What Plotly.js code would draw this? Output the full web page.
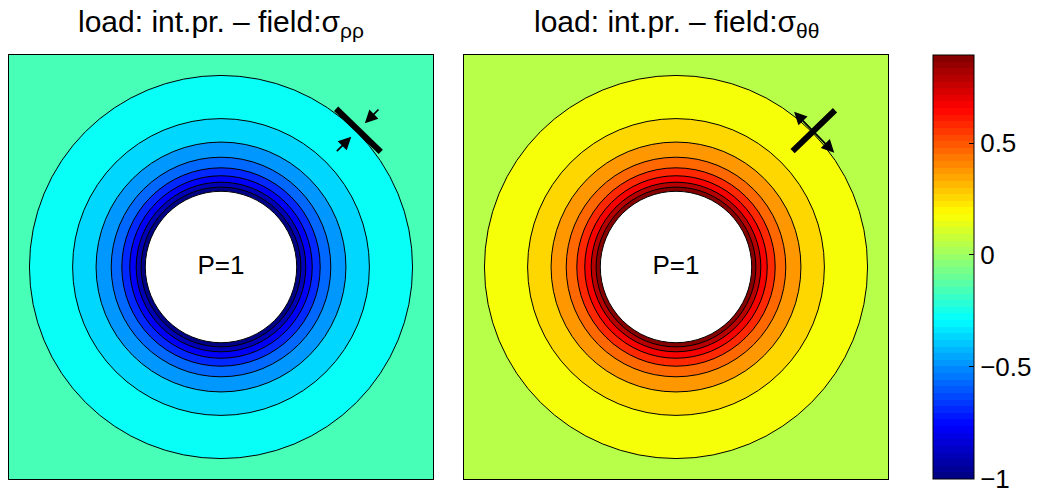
<!DOCTYPE html>
<html>
<head>
<meta charset="utf-8">
<script src="https://cdn.plot.ly/plotly-3.0.1.min.js"></script>
<style>
  html, body { margin: 0; padding: 0; background: #fff; }
  #chart { width: 1039px; height: 493px; }
</style>
</head>
<body>
<div id="chart"></div>
<script>
// Radii (in units of the hole radius) of the contour circles, outermost first
const contourRadius = [2.53, 1.96, 1.65, 1.45, 1.31, 1.205, 1.12, 1.055];
// Filled value of each region: outside the outer circle, then inside each circle
const sigmaRhoRho     = [-0.158, -0.263, -0.368, -0.474, -0.579, -0.684, -0.789, -0.895, -1.0];
const sigmaThetaTheta = [ 0.053,  0.158,  0.263,  0.368,  0.474,  0.579,  0.684,  0.789,  0.895];
const holeRadius = 1;
const pressure = 1;
const colorRange = [-1.0005, 0.893];
const colorbarTicks = [-1, -0.5, 0, 0.5];
const colorbarTickText = ['\u22121', '\u22120.5', '0', '0.5'];

const FONT = 'Liberation Sans, Arial, Helvetica, sans-serif';
const W = 1039, H = 493;
const NCOL = 64;

// MATLAB-style jet colormap
function jet(t) {
  const c = v => Math.round(255 * Math.min(1, Math.max(0, v)));
  return 'rgb(' + c(1.5 - Math.abs(4 * t - 3)) + ',' +
                  c(1.5 - Math.abs(4 * t - 2)) + ',' +
                  c(1.5 - Math.abs(4 * t - 1)) + ')';
}
function levelColor(v) {
  let i = Math.floor((v - colorRange[0]) / (colorRange[1] - colorRange[0]) * NCOL);
  i = Math.max(0, Math.min(NCOL - 1, i));
  return jet((i + 0.5) / NCOL);
}
const jetScale = [];
for (let i = 0; i < NCOL; i++) {
  const col = jet((i + 0.5) / NCOL);
  jetScale.push([i / NCOL, col], [(i + 1) / NCOL, col]);
}

// Axis pixel boxes
const px = (a, b) => [a / W, b / W];
const py = (top, bottom) => [1 - bottom / H, 1 - top / H];
const dom1 = px(9, 433), dom2 = px(464, 888), domY = py(55, 479);

function contourShapes(values, xr, yr) {
  const s = [{
    type: 'rect', xref: xr + ' domain', yref: yr + ' domain',
    x0: 0, x1: 1, y0: 0, y1: 1, layer: 'below',
    fillcolor: levelColor(values[0]), line: { width: 0 }
  }];
  contourRadius.forEach((r, k) => {
    s.push({
      type: 'circle', xref: xr, yref: yr, x0: -r, x1: r, y0: -r, y1: r,
      layer: 'below', fillcolor: levelColor(values[k + 1]),
      line: { color: 'black', width: 1 }
    });
  });
  s.push({
    type: 'circle', xref: xr, yref: yr,
    x0: -holeRadius, x1: holeRadius, y0: -holeRadius, y1: holeRadius,
    layer: 'below', fillcolor: 'white', line: { color: 'black', width: 1 }
  });
  return s;
}

const shapes = [
  ...contourShapes(sigmaRhoRho, 'x', 'y'),
  ...contourShapes(sigmaThetaTheta, 'x2', 'y2'),
  // pressure-loaded element, radial stress (tangential bar)
  { type: 'line', xref: 'x', yref: 'y', x0: 1.52, y0: 2.09, x1: 2.11, y1: 1.52,
    layer: 'above', line: { color: 'black', width: 6 } },
  // hoop stress element (radial bar)
  { type: 'line', xref: 'x2', yref: 'y2', x0: 1.54, y0: 1.53, x1: 2.10, y1: 2.07,
    layer: 'above', line: { color: 'black', width: 6 } }
];

const arrowBase = { text: '', showarrow: true, arrowhead: 2, arrowsize: 1.5,
                    arrowwidth: 1.7, arrowcolor: 'black', standoff: 0 };
const titleFont = { family: FONT, size: 30, color: 'black' };
const annotations = [
  { ...arrowBase, xref: 'x', yref: 'y', axref: 'x', ayref: 'y',
    x: 1.90, y: 1.90, ax: 2.10, ay: 2.10 },
  { ...arrowBase, xref: 'x', yref: 'y', axref: 'x', ayref: 'y',
    x: 1.72, y: 1.72, ax: 1.51, ay: 1.51 },
  { ...arrowBase, xref: 'x2', yref: 'y2', axref: 'x2', ayref: 'y2',
    x: 2.09, y: 1.51, ax: 1.54, ay: 2.07, arrowside: 'end+start',
    startarrowhead: 2, startarrowsize: 1.5, startstandoff: 0 },
  { xref: 'paper', yref: 'paper', x: (dom1[0] + dom1[1]) / 2, y: 1 - 3 / H,
    xanchor: 'center', yanchor: 'top', showarrow: false,
    text: 'load: int.pr. \u2013 field:\u03c3<sub>\u03c1\u03c1</sub>', font: titleFont },
  { xref: 'paper', yref: 'paper', x: (dom2[0] + dom2[1]) / 2, y: 1 - 3 / H,
    xanchor: 'center', yanchor: 'top', showarrow: false,
    text: 'load: int.pr. \u2013 field:\u03c3<sub>\u03b8\u03b8</sub>', font: titleFont }
];

const label = (xa, ya) => ({
  x: [0], y: [0], xaxis: xa, yaxis: ya, type: 'scatter', mode: 'text',
  text: ['P=' + pressure], textfont: { family: FONT, size: 26, color: 'black' },
  hoverinfo: 'skip', showlegend: false
});

const scaleHolder = {
  x: [0], y: [0], xaxis: 'x', yaxis: 'y', type: 'scatter', mode: 'markers',
  hoverinfo: 'skip', showlegend: false,
  marker: {
    size: 1, opacity: 0, color: [colorRange[0]],
    cmin: colorRange[0], cmax: colorRange[1], colorscale: jetScale, showscale: true,
    colorbar: {
      x: 933 / W, xanchor: 'left', xpad: 0, ypad: 0,
      y: 1 - 479 / H, yanchor: 'bottom', len: 424 / H, lenmode: 'fraction',
      thickness: 41, thicknessmode: 'pixels',
      outlinewidth: 1, outlinecolor: 'black',
      tickmode: 'array', tickvals: colorbarTicks, ticktext: colorbarTickText,
      ticks: 'inside', ticklen: 5, tickcolor: 'black', tickwidth: 1,
      ticklabeloverflow: 'allow',
      tickfont: { family: FONT, size: 26, color: 'black' }
    }
  }
};

const axisBase = {
  range: [-2.8, 2.8], showgrid: false, zeroline: false, showticklabels: false,
  ticks: '', showline: true, mirror: true, linecolor: 'black', linewidth: 1,
  fixedrange: true
};

const layout = {
  width: W, height: H, margin: { l: 0, r: 0, t: 0, b: 0 },
  paper_bgcolor: 'white', plot_bgcolor: 'rgba(0,0,0,0)', showlegend: false,
  xaxis:  { ...axisBase, domain: dom1, anchor: 'y' },
  yaxis:  { ...axisBase, domain: domY, anchor: 'x' },
  xaxis2: { ...axisBase, domain: dom2, anchor: 'y2' },
  yaxis2: { ...axisBase, domain: domY, anchor: 'x2' },
  shapes: shapes,
  annotations: annotations
};

Plotly.newPlot('chart', [scaleHolder, label('x', 'y'), label('x2', 'y2')], layout,
  { staticPlot: true, displayModeBar: false });
</script>
</body>
</html>
